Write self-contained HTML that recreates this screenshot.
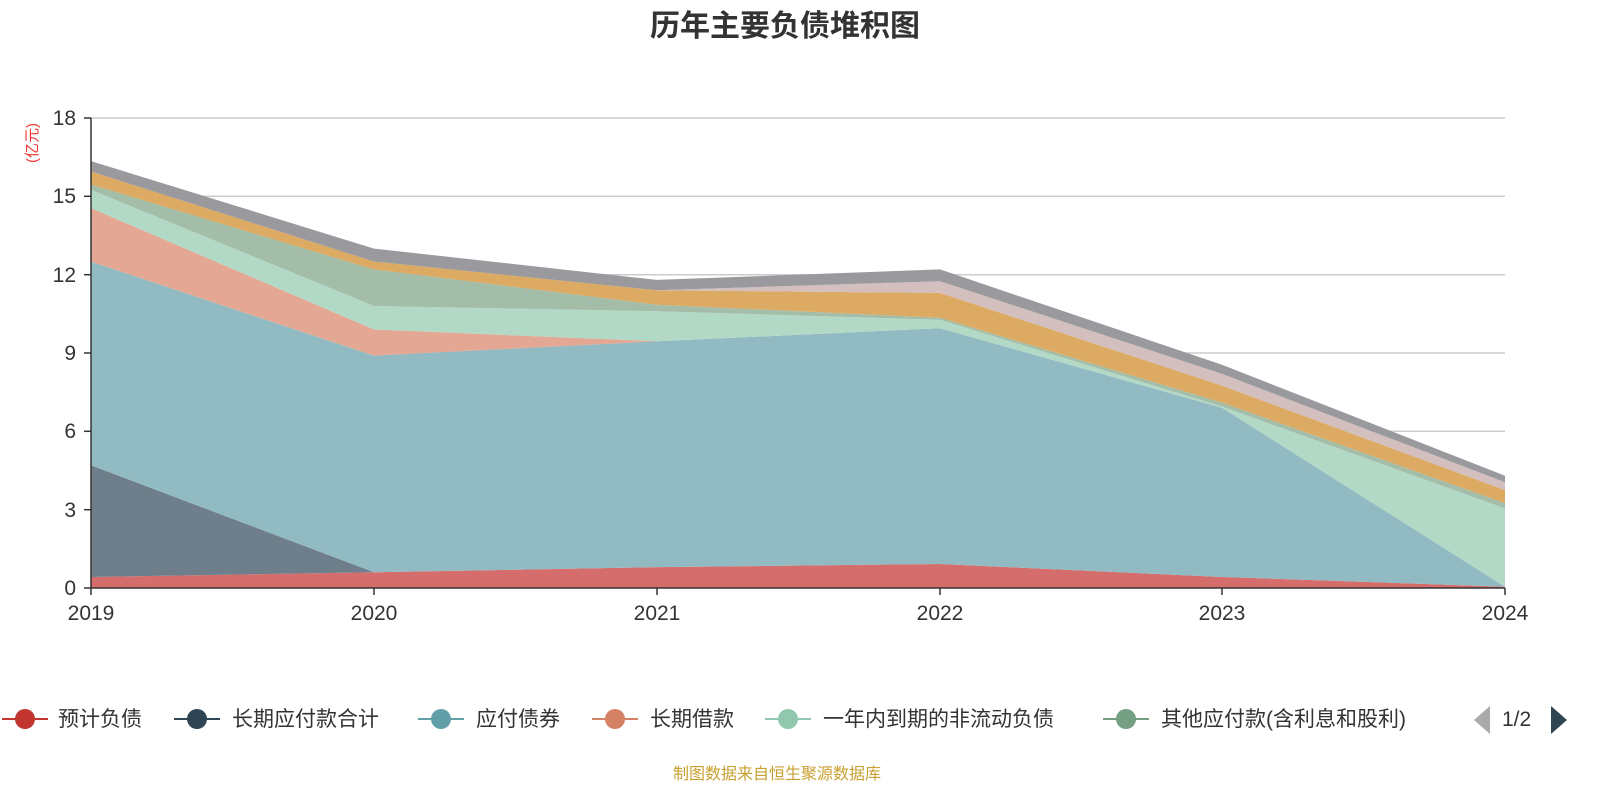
<!DOCTYPE html>
<html><head><meta charset="utf-8"><style>
body{margin:0;width:1600px;height:800px;background:#fff;font-family:"Liberation Sans","Noto Sans CJK SC",sans-serif;overflow:hidden}
</style></head><body>
<svg id="s" width="1600" height="800" xmlns="http://www.w3.org/2000/svg" style="position:absolute;left:0;top:0">
<text x="785" y="36" text-anchor="middle" font-size="30" font-weight="bold" fill="#333" font-family="Liberation Sans,Noto Sans CJK SC,sans-serif">历年主要负债堆积图</text>
<g stroke="#ccc" stroke-width="1.5">
<line x1="91" x2="1505" y1="118" y2="118"/><line x1="91" x2="1505" y1="196.3" y2="196.3"/><line x1="91" x2="1505" y1="274.7" y2="274.7"/><line x1="91" x2="1505" y1="353" y2="353"/><line x1="91" x2="1505" y1="431.3" y2="431.3"/><line x1="91" x2="1505" y1="509.7" y2="509.7"/>
</g>
<g id="areas"></g>
<g stroke="#333" stroke-width="1.5"><line x1="91" y1="118" x2="91" y2="588"/><line x1="91" y1="588" x2="1505" y2="588"/>
<line x1="84" x2="91" y1="118" y2="118"/><line x1="84" x2="91" y1="196.3" y2="196.3"/><line x1="84" x2="91" y1="274.7" y2="274.7"/><line x1="84" x2="91" y1="353" y2="353"/><line x1="84" x2="91" y1="431.3" y2="431.3"/><line x1="84" x2="91" y1="509.7" y2="509.7"/><line x1="84" x2="91" y1="588" y2="588"/>
<line x1="374" x2="374" y1="588" y2="595"/><line x1="657" x2="657" y1="588" y2="595"/><line x1="940" x2="940" y1="588" y2="595"/><line x1="1222" x2="1222" y1="588" y2="595"/><line x1="1505" x2="1505" y1="588" y2="595"/><line x1="91" x2="91" y1="588" y2="595"/></g>
<g font-size="21" fill="#333" text-anchor="end" font-family="Liberation Sans,sans-serif">
<text x="76" y="125">18</text><text x="76" y="203">15</text><text x="76" y="282">12</text><text x="76" y="360">9</text><text x="76" y="438">6</text><text x="76" y="517">3</text><text x="76" y="595">0</text></g>
<g font-size="21" fill="#333" text-anchor="middle" font-family="Liberation Sans,sans-serif">
<text x="91" y="620">2019</text><text x="374" y="620">2020</text><text x="657" y="620">2021</text><text x="940" y="620">2022</text><text x="1222" y="620">2023</text><text x="1505" y="620">2024</text></g>
<text transform="translate(37,143) rotate(-90)" text-anchor="middle" font-size="15" fill="#e33">(亿元)</text>
<g font-size="21" fill="#333" font-family="Liberation Sans,Noto Sans CJK SC,sans-serif">
<line x1="2" x2="48" y1="719" y2="719" stroke="#c23531" stroke-width="2"/><circle cx="25" cy="719" r="10" fill="#c23531"/><text x="58" y="726">预计负债</text>
<line x1="174" x2="220" y1="719" y2="719" stroke="#2f4554" stroke-width="2"/><circle cx="197" cy="719" r="10" fill="#2f4554"/><text x="232" y="726">长期应付款合计</text>
<line x1="418" x2="464" y1="719" y2="719" stroke="#61a0a8" stroke-width="2"/><circle cx="441" cy="719" r="10" fill="#61a0a8"/><text x="476" y="726">应付债券</text>
<line x1="592" x2="638" y1="719" y2="719" stroke="#d48265" stroke-width="2"/><circle cx="615" cy="719" r="10" fill="#d48265"/><text x="650" y="726">长期借款</text>
<line x1="765" x2="811" y1="719" y2="719" stroke="#91c7ae" stroke-width="2"/><circle cx="788" cy="719" r="10" fill="#91c7ae"/><text x="823" y="726">一年内到期的非流动负债</text>
<line x1="1103" x2="1149" y1="719" y2="719" stroke="#749f83" stroke-width="2"/><circle cx="1126" cy="719" r="10" fill="#749f83"/><text x="1161" y="726">其他应付款(含利息和股利)</text>
<polygon points="1490,706 1490,734 1474,720" fill="#aaa"/><text x="1502" y="726">1/2</text><polygon points="1551,706 1551,734 1567,720" fill="#2f4554"/>
</g>
<text x="777" y="779" text-anchor="middle" font-size="16" fill="#c8a030">制图数据来自恒生聚源数据库</text>
</svg>
<script>
var X=[91,374,657,940,1222,1505];
var L=[[0,0,0,0,0,0],
[0.42,0.6,0.8,0.92,0.42,0.05],
[4.7,0.6,0.8,0.92,0.42,0.05],
[12.5,8.9,9.45,9.95,6.9,0.05],
[14.55,9.9,9.45,9.95,6.9,0.05],
[15.25,10.8,10.6,10.27,6.95,3.05],
[15.45,12.2,10.85,10.35,7.1,3.25],
[15.95,12.5,11.4,11.3,7.75,3.75],
[15.95,12.5,11.4,11.75,8.2,4.05],
[16.35,13.0,11.8,12.2,8.55,4.3]];
var C=["#d46d6b","#6e7e8a","#92bac2","#e3a793","#b2d9c6","#a3bda9","#dcaa62","#d3bfbd","#9a9a9e"];
function y(v){return 588-v*26.111;}
var g=document.getElementById("areas"),h="";
for(var i=1;i<L.length;i++){var p=[];for(var j=0;j<6;j++)p.push(X[j]+","+y(L[i][j]).toFixed(1));for(var j=5;j>=0;j--)p.push(X[j]+","+y(L[i-1][j]).toFixed(1));
h+='<polygon points="'+p.join(" ")+'" fill="'+C[i-1]+'"/>';}
g.innerHTML=h;
</script>
</body></html>
